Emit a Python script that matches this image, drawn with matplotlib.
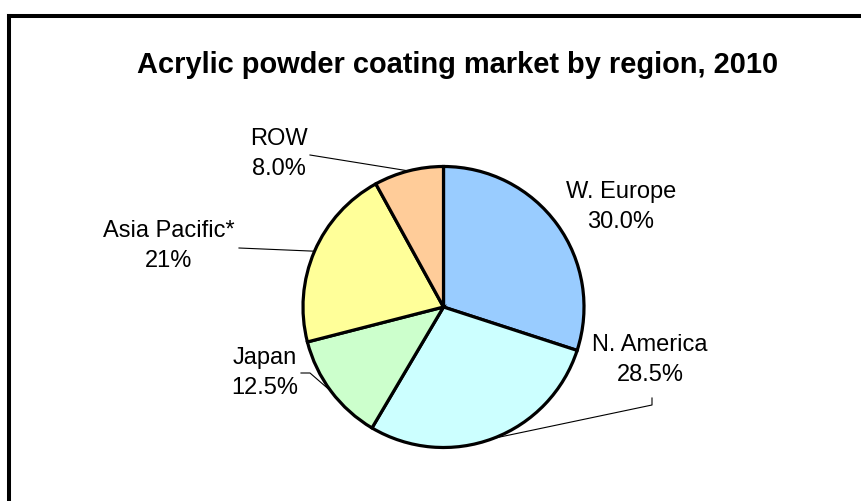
import numpy as np
import matplotlib
matplotlib.use("Agg")
import matplotlib.pyplot as plt
from matplotlib.lines import Line2D

title = "Acrylic powder coating market by region, 2010"
regions = ["W. Europe", "N. America", "Japan", "Asia Pacific*", "ROW"]
shares = [30.0, 28.5, 12.5, 21.0, 8.0]
pct_labels = ["30.0%", "28.5%", "12.5%", "21%", "8.0%"]
colors = ["#99CCFF", "#CCFFFF", "#CCFFCC", "#FFFF99", "#FFCC99"]

W, H = 862, 501
plt.rcParams['font.family'] = ['Liberation Sans', 'DejaVu Sans']
fig = plt.figure(figsize=(W / 100, H / 100), dpi=100)
ax = fig.add_axes([0, 0, 1, 1])

cx, cy, r = 443.5, H - 307, 140.5
wedges, _ = ax.pie(shares, colors=colors, startangle=90, counterclock=False,
                   center=(cx, cy), radius=r, frame=True,
                   wedgeprops=dict(edgecolor='black', linewidth=2.3))
ax.set_xlim(0, W)
ax.set_ylim(0, H)
ax.set_aspect('equal')
ax.axis('off')

# label positions (pixel coordinates, y down) and leader line start points
label_pos = {
    "W. Europe": (621, 207),
    "N. America": (650, 360),
    "Japan": (265, 373),
    "Asia Pacific*": (169, 246),
    "ROW": (279, 154),
}
leader_start = {
    "N. America": [(652, 398), (652, 405)],
    "Japan": [(301, 373), (310, 373)],
    "Asia Pacific*": [(239, 248)],
    "ROW": [(310, 155)],
}

for w, name, pl in zip(wedges, regions, pct_labels):
    x, y = label_pos[name]
    ax.text(x, H - y, f"{name}\n{pl}", ha='center', va='center', fontsize=17,
            linespacing=1.5, color='black')
    if name in leader_start:
        mid = np.deg2rad((w.theta1 + w.theta2) / 2)
        ex, ey = cx + r * np.cos(mid), cy + r * np.sin(mid)
        pts = [(px, H - py) for px, py in leader_start[name]] + [(ex, ey)]
        xs, ys = zip(*pts)
        ax.plot(xs, ys, color='black', linewidth=0.8, zorder=0.5)

ax.text(457.5, H - 73, title, ha='center', va='baseline', fontsize=20.9,
        fontweight='bold')

# frame (left and top edges)
fig.add_artist(Line2D([9.3 / W, 9.3 / W], [0, 1 - 16 / H], transform=fig.transFigure,
                      color='black', linewidth=2.9, solid_capstyle='projecting'))
fig.add_artist(Line2D([9.3 / W, 1], [1 - 16 / H, 1 - 16 / H], transform=fig.transFigure,
                      color='black', linewidth=2.9, solid_capstyle='projecting'))

fig.savefig("out.png", dpi=100)
